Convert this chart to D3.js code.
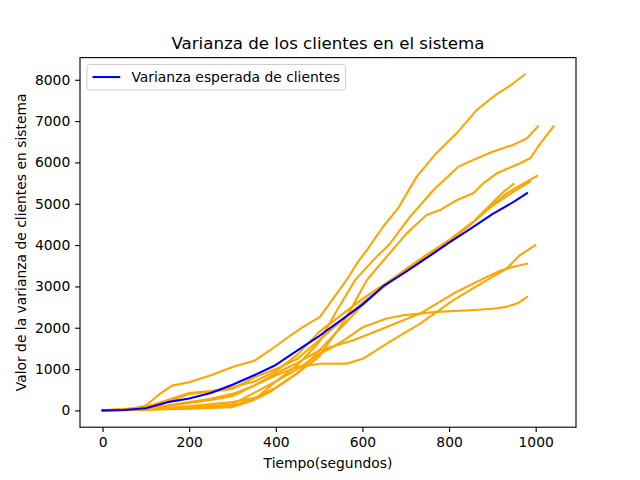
<!DOCTYPE html>
<html>
<head>
<meta charset="utf-8">
<script src="https://cdn.jsdelivr.net/npm/d3@7"></script>
<style>
  body { margin: 0; background: #fff; }
  text { font-family: "DejaVu Sans", sans-serif; fill: #000; }
</style>
</head>
<body>
<div id="chart"></div>
<script>
// Simulation runs (orange) as [tiempo, varianza] pairs
const run1 = [[0,0],[60,20],[100,120],[130,380],[160,600],[200,680],[250,850],[300,1050],[350,1200],[386,1450],[432,1800],[463,2020],[502,2262],[532,2700],[563,3150],[590,3600],[613,3919],[648,4450],[683,4900],[725,5650],[771,6230],[818,6710],[864,7270],[910,7650],[940,7850],[975,8130]];
const run2 = [[0,0],[100,20],[200,40],[300,80],[350,250],[400,700],[450,1100],[500,1650],[540,2400],[583,3152],[625,3636],[664,4040],[710,4687],[764,5333],[822,5899],[856,6061],[902,6263],[948,6424],[980,6586],[1005,6869]];
const run3 = [[0,0],[100,30],[200,80],[300,120],[355,283],[386,444],[409,606],[450,900],[500,1300],[560,2200],[610,3152],[656,3717],[702,4283],[748,4727],[779,4848],[818,5091],[856,5253],[879,5495],[910,5737],[964,5980],[987,6100],[1010,6450],[1041,6869]];
const run4 = [[0,0],[50,30],[100,80],[150,250],[200,420],[250,470],[300,560],[350,700],[400,950],[450,1350],[500,1900],[550,2300],[600,2700],[650,3050],[700,3400],[750,3760],[800,4100],[856,4566],[895,4929],[933,5253],[970,5480],[1003,5673]];
const run5 = [[0,0],[80,40],[150,200],[200,400],[250,450],[300,520],[350,800],[400,1000],[450,1250],[500,1700],[550,2150],[600,2600],[650,3000],[700,3380],[750,3740],[800,4080],[850,4500],[900,4950],[950,5300],[987,5535]];
const run6 = [[0,0],[100,60],[150,120],[200,200],[250,280],[300,400],[350,600],[400,900],[450,1150],[500,1450],[550,2000],[600,2550],[650,3000],[700,3420],[750,3780],[800,4120],[856,4566],[895,4970],[926,5293],[949,5479]];
const run7 = [[0,0],[100,40],[200,180],[250,250],[300,350],[350,600],[400,850],[450,1050],[502,1130],[563,1131],[602,1253],[656,1616],[733,2101],[810,2667],[887,3152],[933,3434],[964,3758],[999,4000]];
const run8 = [[0,0],[100,20],[200,100],[300,200],[350,300],[400,550],[450,900],[502,1455],[579,1697],[656,2020],[733,2343],[810,2828],[887,3232],[918,3380],[949,3475],[980,3550]];
const run9 = [[0,0],[100,10],[200,50],[300,150],[400,700],[450,1000],[502,1374],[532,1535],[563,1737],[602,2020],[656,2222],[694,2303],[771,2384],[849,2424],[900,2460],[933,2505],[960,2600],[980,2747]];
const runs = [run1, run2, run3, run4, run5, run6, run7, run8, run9];

// Expected variance (blue)
const expected = [[0,0],[50,10],[100,50],[150,200],[200,290],[250,420],[300,620],[350,850],[400,1100],[450,1450],[500,1800],[550,2180],[600,2560],[650,3020],[700,3350],[750,3700],[800,4060],[850,4400],[900,4750],[950,5050],[980,5253]];

const xTicks = [0, 200, 400, 600, 800, 1000];
const yTicks = [0, 1000, 2000, 3000, 4000, 5000, 6000, 7000, 8000];
const title = 'Varianza de los clientes en el sistema';
const xLabel = 'Tiempo(segundos)';
const yLabel = 'Valor de la varianza de clientes en sistema';
const legendLabel = 'Varianza esperada de clientes';

const width = 640, height = 480;
const margin = { top: 57.6, right: 64, bottom: 52.8, left: 80 };
const pt = 100 / 72;           // matplotlib points -> px at 100 dpi
const fs = 10 * pt;            // base font size

const svg = d3.select('#chart').append('svg')
    .attr('width', width)
    .attr('height', height);

// matplotlib style 5% padding on both axes
const all = runs.flat().concat(expected);
const [x0, x1] = d3.extent(all, d => d[0]);
const [y0, y1] = d3.extent(all, d => d[1]);
const padX = (x1 - x0) * 0.05, padY = (y1 - y0) * 0.05;

const x = d3.scaleLinear()
    .domain([x0 - padX, x1 + padX])
    .range([margin.left, width - margin.right]);
const y = d3.scaleLinear()
    .domain([y0 - padY, y1 + padY])
    .range([height - margin.bottom, margin.top]);

const line = d3.line().x(d => x(d[0])).y(d => y(d[1]));

const plot = svg.append('g');
plot.selectAll('.run')
    .data(runs)
    .enter()
    .append('path')
    .attr('class', 'run')
    .attr('d', line)
    .attr('fill', 'none')
    .attr('stroke', 'orange')
    .attr('stroke-width', 1.5 * pt)
    .attr('stroke-linejoin', 'round')
    .attr('stroke-linecap', 'square');

plot.append('path')
    .datum(expected)
    .attr('d', line)
    .attr('fill', 'none')
    .attr('stroke', 'blue')
    .attr('stroke-width', 1.5 * pt)
    .attr('stroke-linejoin', 'round')
    .attr('stroke-linecap', 'square');

// Axes
const xAxis = svg.append('g')
    .attr('transform', `translate(0,${height - margin.bottom})`)
    .call(d3.axisBottom(x).tickValues(xTicks).tickSize(3.5 * pt).tickPadding(3.5 * pt).tickFormat(d3.format('d')));
const yAxis = svg.append('g')
    .attr('transform', `translate(${margin.left},0)`)
    .call(d3.axisLeft(y).tickValues(yTicks).tickSize(3.5 * pt).tickPadding(3.5 * pt).tickFormat(d3.format('d')));

[xAxis, yAxis].forEach(g => {
    g.select('.domain').remove();
    g.selectAll('.tick line').attr('stroke', '#000').attr('stroke-width', 0.8 * pt);
    g.selectAll('.tick text')
        .attr('font-family', 'DejaVu Sans, sans-serif')
        .attr('font-size', fs)
        .attr('fill', '#000');
});

// Frame
svg.append('rect')
    .attr('x', margin.left)
    .attr('y', margin.top)
    .attr('width', width - margin.left - margin.right)
    .attr('height', height - margin.top - margin.bottom)
    .attr('fill', 'none')
    .attr('stroke', '#000')
    .attr('stroke-width', 0.8 * pt);

// Title and labels
svg.append('text')
    .attr('x', (margin.left + width - margin.right) / 2)
    .attr('y', margin.top - 6 * pt)
    .attr('text-anchor', 'middle')
    .attr('font-size', 12 * pt)
    .text(title);

svg.append('text')
    .attr('x', (margin.left + width - margin.right) / 2)
    .attr('y', 467.5)
    .attr('text-anchor', 'middle')
    .attr('font-size', fs)
    .text(xLabel);

svg.append('text')
    .attr('transform', `translate(26,${(margin.top + height - margin.bottom) / 2}) rotate(-90)`)
    .attr('text-anchor', 'middle')
    .attr('font-size', fs)
    .text(yLabel);

// Legend (upper left)
const lx = margin.left + 0.5 * fs, ly = margin.top + 0.5 * fs;
const legend = svg.append('g').attr('transform', `translate(${lx},${ly})`);
const legendBox = legend.append('rect')
    .attr('rx', 2.8)
    .attr('fill', 'white')
    .attr('fill-opacity', 0.8)
    .attr('stroke', '#cccccc')
    .attr('stroke-width', 1);
const pad = 0.4 * fs, handle = 2 * fs, gap = 0.8 * fs;
legend.append('line')
    .attr('x1', pad).attr('x2', pad + handle)
    .attr('y1', 12.5).attr('y2', 12.5)
    .attr('stroke', 'blue')
    .attr('stroke-width', 1.5 * pt);
const legendText = legend.append('text')
    .attr('x', pad + handle + gap)
    .attr('y', 17.5)
    .attr('font-size', fs)
    .text(legendLabel);
const tw = legendText.node().getComputedTextLength();
legendBox.attr('width', pad + handle + gap + tw + pad).attr('height', 25.5);
</script>
</body>
</html>
